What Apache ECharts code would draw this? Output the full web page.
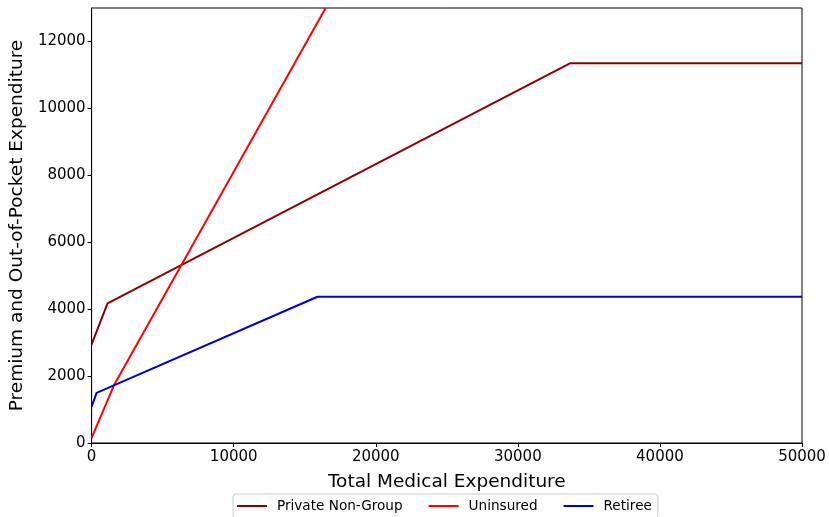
<!DOCTYPE html>
<html>
<head>
<meta charset="utf-8">
<script src="https://cdn.jsdelivr.net/npm/echarts@6/dist/echarts.min.js"></script>
<style>
  html, body { margin: 0; padding: 0; background: #fff; }
  #chart { width: 829px; height: 517px; }
</style>
</head>
<body>
<div id="chart"></div>
<script>
// Premium plus out-of-pocket cost versus total medical expenditure, by coverage type
const seriesNames = ['Private Non-Group', 'Uninsured', 'Retiree'];
const privateNonGroup = [[0, 2950], [1120, 4170], [33700, 11350], [50000, 11350]];
const uninsured = [[0, 150], [1600, 1750], [16470, 13000]];
const retiree = [[0, 1080], [350, 1500], [15900, 4370], [50000, 4370]];
const xTicks = [0, 10000, 20000, 30000, 40000, 50000];
const yTicks = [0, 2000, 4000, 6000, 8000, 10000, 12000];
const colors = ['#8b0000', '#ff0000', '#0000cd'];

const font = 'DejaVu Sans';
const chart = echarts.init(document.getElementById('chart'), null, { renderer: 'canvas' });

function lineSeries(name, data, color) {
  return {
    name, type: 'line', data, showSymbol: false, symbol: 'none',
    lineStyle: { color, width: 2 }, itemStyle: { color },
    clip: true, animation: false
  };
}

chart.setOption({
  animation: false,
  textStyle: { fontFamily: font },
  grid: {
    left: 90, right: 27, top: 8, bottom: 74,
    show: true, borderColor: '#000', borderWidth: 1, backgroundColor: 'transparent'
  },
  legend: {
    top: 494, left: 233,
    data: seriesNames,
    itemWidth: 30, itemHeight: 2, itemGap: 26,
    icon: 'rect',
    textStyle: { fontFamily: font, fontSize: 13.6, color: '#000', padding: [0, 0, 0, 5] },
    borderColor: '#ccc', borderWidth: 1, borderRadius: 3,
    padding: [5, 6, 5, 4]
  },
  xAxis: {
    type: 'value', min: 0, max: 50000, interval: 10000,
    name: 'Total Medical Expenditure', nameLocation: 'middle', nameGap: 30,
    nameTextStyle: { fontFamily: font, fontSize: 18.5, color: '#000' },
    axisLine: { show: true, lineStyle: { color: '#000', width: 1 } },
    axisTick: { show: true, inside: false, length: 4, lineStyle: { color: '#000' } },
    axisLabel: { fontFamily: font, fontSize: 15, color: '#000', margin: 7,
      formatter: v => xTicks.includes(v) ? String(v) : '' },
    splitLine: { show: false }
  },
  yAxis: {
    type: 'value', min: 0, max: 13000, interval: 2000,
    name: 'Premium and Out-of-Pocket Expenditure', nameLocation: 'middle', nameGap: 63,
    nameTextStyle: { fontFamily: font, fontSize: 18.5, color: '#000' },
    axisLine: { show: true, lineStyle: { color: '#000', width: 1 } },
    axisTick: { show: true, inside: false, length: 4, lineStyle: { color: '#000' } },
    axisLabel: { fontFamily: font, fontSize: 15, color: '#000', margin: 6,
      showMaxLabel: false,
      formatter: v => yTicks.includes(v) ? String(v) : '' },
    splitLine: { show: false }
  },
  series: [
    lineSeries(seriesNames[0], privateNonGroup, colors[0]),
    lineSeries(seriesNames[1], uninsured, colors[1]),
    lineSeries(seriesNames[2], retiree, colors[2])
  ]
});
</script>
</body>
</html>
